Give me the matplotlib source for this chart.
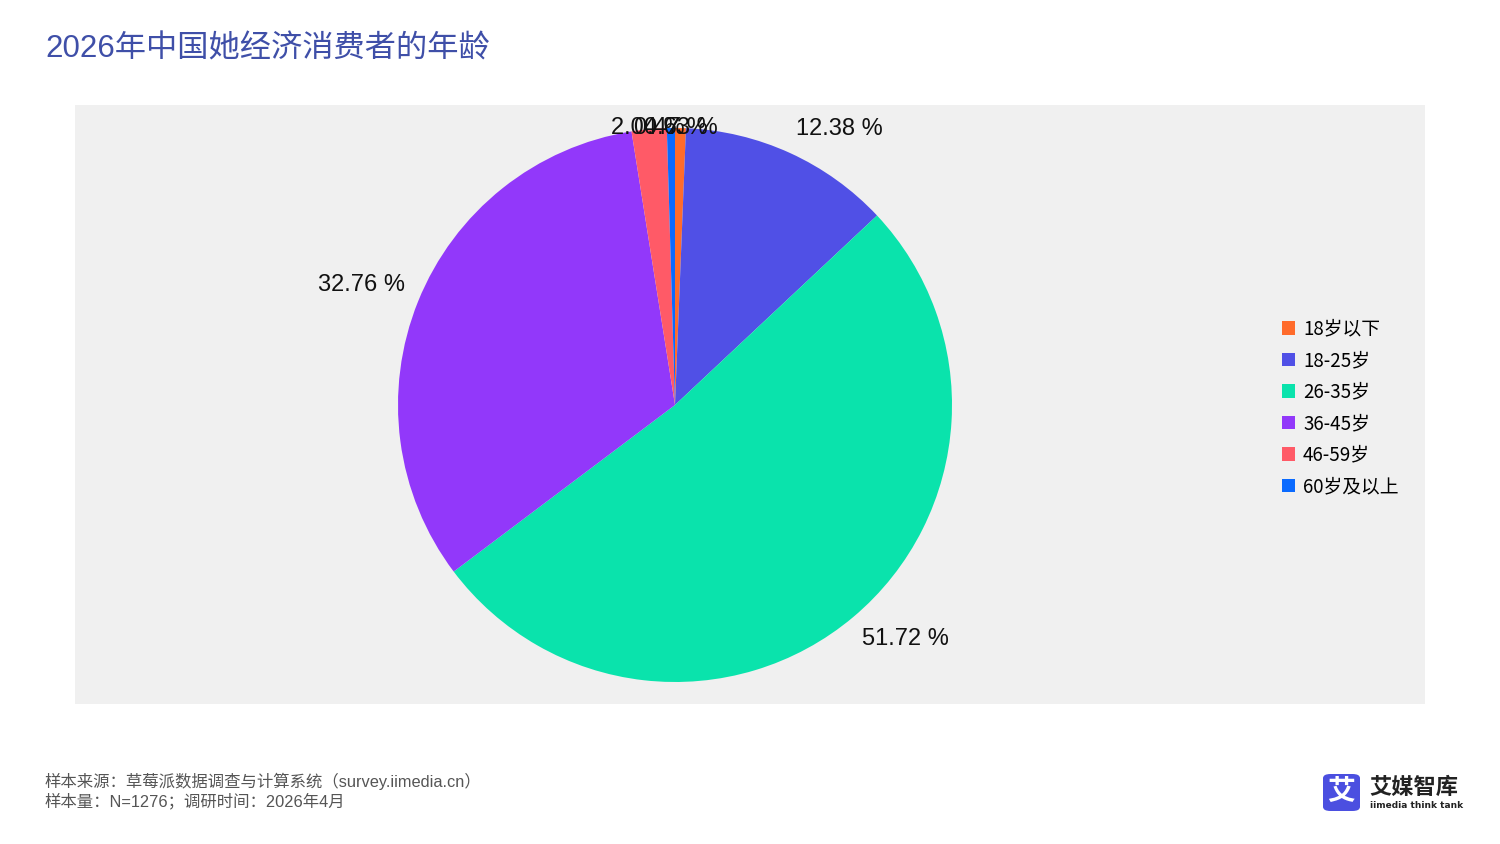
import numpy as np
import matplotlib.pyplot as plt
from matplotlib.patches import Patch, FancyBboxPatch

plt.rcParams['font.family'] = ['Liberation Sans', 'Noto Sans CJK SC', 'DejaVu Sans']

# data (N=1276)
ages = ["18岁以下", "18-25岁", "26-35岁", "36-45岁", "46-59岁", "60岁及以上"]
shares = [0.63, 12.38, 51.72, 32.76, 2.04, 0.47]
colors = ["#FF6B2B", "#5050E6", "#0AE3AC", "#9238FA", "#FF5A67", "#0A6AFF"]

title = "2026年中国她经济消费者的年龄"
source_1 = "样本来源：草莓派数据调查与计算系统（survey.iimedia.cn）"
source_2 = "样本量：N=1276；调研时间：2026年4月"

W, H = 1500, 844
fig = plt.figure(figsize=(15, 8.44), dpi=100)

# grey plot area
bg = fig.add_axes([75 / W, 1 - 704 / H, 1350 / W, 599 / H], zorder=0)
bg.set_facecolor("#F0F0F0")
bg.set_xticks([])
bg.set_yticks([])
for s in bg.spines.values():
    s.set_visible(False)

# pie axes, square, centred at (675, 405)
R = 277
ax = fig.add_axes([(675 - R) / W, 1 - (405 + R) / H, 2 * R / W, 2 * R / H], zorder=1)
ax.patch.set_alpha(0)
wedges, _ = ax.pie(shares, colors=colors, startangle=90, counterclock=False,
                   radius=1, wedgeprops=dict(linewidth=0))
ax.set_xlim(-1, 1)
ax.set_ylim(-1, 1)
ax.axis("off")

for w, v in zip(wedges, shares):
    ang = np.deg2rad((w.theta1 + w.theta2) / 2)
    x, y = 1.05 * np.cos(ang), 1.05 * np.sin(ang)
    if abs(x) < 0.15:
        ha = "center"
        y = 1.0
        va = "center"
    else:
        ha = "left" if x > 0 else "right"
        va = "bottom" if y > 0 else "top"
    ax.text(x, y, "{:.2f} %".format(v), ha=ha, va=va, fontsize=17,
            color="#111111", clip_on=False)

# title
fig.text(45 / W, 1 - 50 / H, title, fontsize=22.5, color="#3F4FA8",
         ha="left", va="center")

# legend
handles = [Patch(facecolor=c, edgecolor="none") for c in colors]
fig.legend(handles, ages, loc="upper left", bbox_to_anchor=(1274 / W, 1 - 311 / H),
           frameon=False, handlelength=0.7, handleheight=0.7,
           handletextpad=0.45, labelspacing=0.56, borderaxespad=0,
           prop=dict(family=['Noto Sans CJK SC', 'DejaVu Sans'], size=13.5))

# footer
fig.text(45 / W, 1 - 781 / H, source_1, fontsize=11.8, color="#555555",
         ha="left", va="center")
fig.text(45 / W, 1 - 801 / H, source_2, fontsize=11.8, color="#555555",
         ha="left", va="center")

# logo
fig.patches.append(FancyBboxPatch((1323 / W, 1 - 811 / H), 37 / W, 37 / H,
                                  boxstyle="round,pad=0,rounding_size=0.005",
                                  transform=fig.transFigure, facecolor="#4B4FE0",
                                  edgecolor="none"))
fig.text(1341.5 / W, 1 - 792 / H, "艾", fontsize=20, color="white", weight="bold",
         ha="center", va="center", family=['Noto Sans CJK SC'])
fig.text(1369 / W, 1 - 787 / H, "艾媒智库", fontsize=16, color="#222222",
         weight="bold", ha="left", va="center", family=['Noto Sans CJK SC'])
fig.text(1370 / W, 1 - 805 / H, "iimedia think tank", fontsize=6.5, color="#222222",
         weight="bold", ha="left", va="center", family=['DejaVu Sans'])

fig.savefig("out.png", dpi=100)
